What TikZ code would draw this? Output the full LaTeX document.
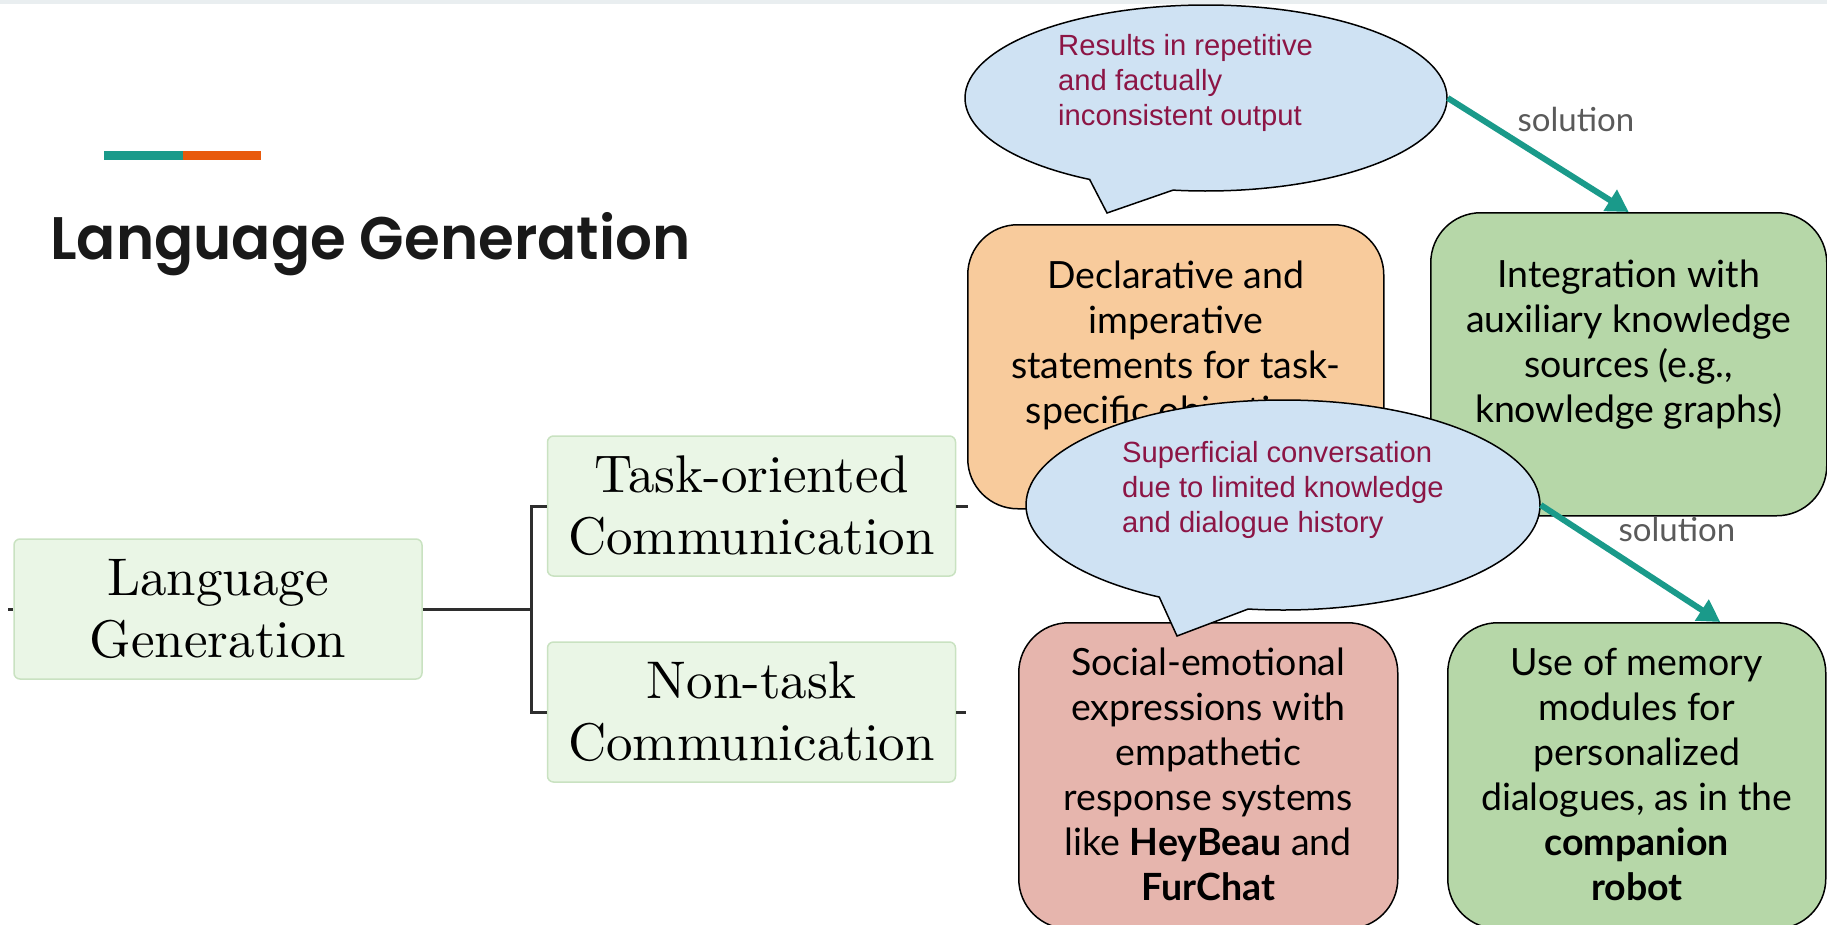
\documentclass[tikz,border=0pt]{standalone}
\usepackage{fontspec}
\usetikzlibrary{shapes.callouts,arrows.meta,calc}
\newfontfamily\boxfont{Lato}
\newfontfamily\callfont{Liberation Sans}
\newfontfamily\treefont{lmroman10-regular.otf}
\IfFontExistsTF{Poppins SemiBold}
  {\newfontfamily\titlefont{Poppins SemiBold}\newcommand\titleweight{}}
  {\newfontfamily\titlefont{Poppins}\newcommand\titleweight{\bfseries}}
\definecolor{bandgray}{HTML}{E9EEF0}
\definecolor{accteal}{HTML}{1A9A8A}
\definecolor{accorange}{HTML}{E85A0C}
\definecolor{treefill}{HTML}{EAF6E6}
\definecolor{treeborder}{HTML}{C9E2C1}
\definecolor{treeline}{HTML}{2E2E2E}
\definecolor{orangefill}{HTML}{F8CB9C}
\definecolor{greenfill}{HTML}{B6D7A8}
\definecolor{redfill}{HTML}{E6B5AD}
\definecolor{callfill}{HTML}{CFE2F3}
\definecolor{calltext}{HTML}{8C1545}
\definecolor{solgray}{HTML}{5A5A5A}
\tikzset{
  treebox/.style={draw=treeborder, fill=treefill, line width=1.5pt, rounded corners=6pt,
    minimum width=408pt, minimum height=140pt, inner sep=0pt, align=center,
    text=black, font=\treefont\fontsize{53}{62}\selectfont},
  treelink/.style={draw=treeline, line width=3pt},
  bigbox/.style={draw=black, line width=1.5pt, rounded corners=50pt, inner sep=0pt, anchor=north west},
  boxtext/.style={anchor=north, inner sep=0pt, align=center, text=black,
    font=\boxfont\fontsize{37.5}{45}\selectfont},
  bubble/.style={ellipse callout, draw=black, line width=1.5pt, fill=callfill,
    inner sep=0pt, callout pointer arc=21},
  bubbletext/.style={anchor=north west, inner sep=0pt, align=left, text=calltext,
    font=\callfont\fontsize{29.2}{35}\selectfont},
  solarrow/.style={draw=accteal, line width=6pt, -{Triangle[length=22pt,width=24pt]}},
  sollabel/.style={inner sep=0pt, text=solgray, font=\boxfont\fontsize{33}{40}\selectfont}
}
\begin{document}
\begin{tikzpicture}[x=1pt,y=-1pt]
\useasboundingbox (0,0) rectangle (1827,924);
% header band and accent bar
\fill[bandgray] (0,0) rectangle (1827,4);
\fill[accteal] (104,151) rectangle (183,160);
\fill[accorange] (183,151) rectangle (261,160);
\node[anchor=base west, inner sep=0pt, text=black!90, font=\titlefont\titleweight\fontsize{60}{66}\selectfont]
  (title) at (50,259) {\scalebox{0.965}[1]{Language Generation}};

% taxonomy tree
\node[treebox] (lg) at (218,609) {Language\\Generation};
\node[treebox] (task) at (751.5,506) {Task-oriented\\Communication};
\node[treebox] (non) at (751.5,712) {Non-task\\Communication};
\coordinate (fork) at (531,609);
\coordinate (lgin) at (8,609);
\coordinate (taskout) at (968,506);
\coordinate (nonout) at (966,712);
\draw[treelink] (lgin) -- (lg.west);
\draw[treelink] (lg.east) -- (fork);
\draw[treelink] (task.west) -| (fork) |- (non.west);
\draw[treelink] (task.east) -- (taskout);
\draw[treelink] (non.east) -- (nonout);

% approach boxes
\node[bigbox, fill=orangefill, minimum width=416pt, minimum height=284pt] (decl) at (967,224) {};
\node[boxtext] (declt) at ($(decl.north)+(0,37)$) {Declarative and\\imperative\\statements for task-\\specific objectives};
\node[bigbox, fill=greenfill, minimum width=396pt, minimum height=303pt] (integ) at (1430,212) {};
\node[boxtext] (integt) at ($(integ.north)+(0,48)$) {Integration with\\auxiliary knowledge\\sources (e.g.,\\knowledge graphs)};
\node[bigbox, fill=redfill, minimum width=379pt, minimum height=306pt] (social) at (1018,622) {};
\node[boxtext] (socialt) at ($(social.north)+(0,26)$) {Social-emotional\\expressions with\\empathetic\\response systems\\like \textbf{HeyBeau} and\\\textbf{FurChat}};
\node[bigbox, fill=greenfill, minimum width=378pt, minimum height=306pt] (memory) at (1447,622) {};
\node[boxtext] (memoryt) at ($(memory.north)+(0,26)$) {Use of memory\\modules for\\personalized\\dialogues, as in the\\\textbf{companion}\\\textbf{robot}};

% problem callouts
\node[bubble, minimum width=482pt, minimum height=186pt, callout absolute pointer={(1107,213)}] (rep) at (1206,98) {};
\node[bubbletext] (rept) at (1058,34) {Results in repetitive\\and factually\\inconsistent output};
\node[bubble, minimum width=514pt, minimum height=210pt, callout absolute pointer={(1177,636)}] (sup) at (1283,505) {};
\node[bubbletext] (supt) at (1122,441) {Superficial conversation\\due to limited knowledge\\and dialogue history};

% solution arrows
\draw[solarrow] (rep.east) -- (integ.north);
\draw[solarrow] (sup.east) -- ($(memory.north west)!0.72!(memory.north east)$);
\node[sollabel] (sol1) at (1576,119) {solution};
\node[sollabel] (sol2) at (1677,529) {solution};
\end{tikzpicture}
\end{document}
